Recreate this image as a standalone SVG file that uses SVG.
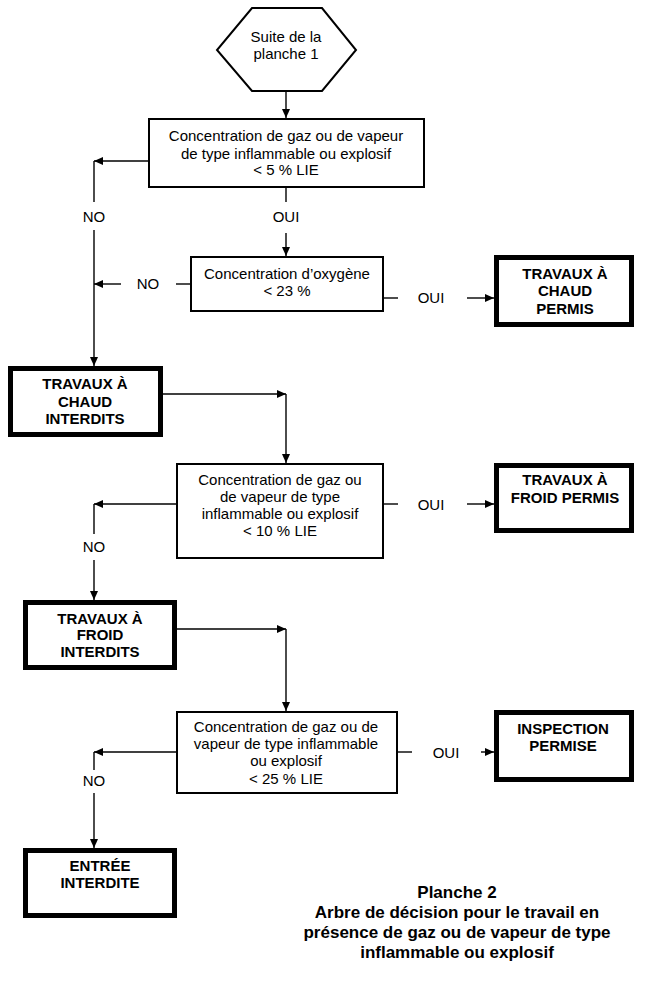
<svg xmlns="http://www.w3.org/2000/svg" width="650" height="981" viewBox="0 0 650 981">
<style>
.bg{fill:#fff}
.thin{fill:#fff;stroke:#000;stroke-width:2}
.thick{fill:#fff;stroke:#000;stroke-width:5}
.t{font-family:"Liberation Sans",Arial,sans-serif;font-size:15px;fill:#000;text-anchor:middle}
.b{font-family:"Liberation Sans",Arial,sans-serif;font-size:15px;font-weight:bold;fill:#000;text-anchor:middle}
.title{font-family:"Liberation Sans",Arial,sans-serif;font-size:17px;font-weight:bold;fill:#000;text-anchor:middle}
.c{fill:none;stroke:#000;stroke-width:1.4}
</style>
<defs>
<marker id="ah" markerUnits="userSpaceOnUse" markerWidth="9" markerHeight="8" refX="9" refY="4" orient="auto">
<path d="M0,0 L9,4 L0,8 z" fill="#000"/>
</marker>
</defs>
<rect class="bg" x="0" y="0" width="650" height="981"/>

<g id="connectors">
<line class="c" x1="286" y1="91" x2="286" y2="118" marker-end="url(#ah)"/>
<line class="c" x1="148" y1="161" x2="94" y2="161" marker-end="url(#ah)"/>
<line class="c" x1="94" y1="161" x2="94" y2="202"/>
<line class="c" x1="94" y1="230" x2="94" y2="366" marker-end="url(#ah)"/>
<line class="c" x1="286" y1="188" x2="286" y2="202"/>
<line class="c" x1="286" y1="233" x2="286" y2="256" marker-end="url(#ah)"/>
<line class="c" x1="190" y1="284" x2="176" y2="284"/>
<line class="c" x1="121" y1="284" x2="94" y2="284" marker-end="url(#ah)"/>
<line class="c" x1="384" y1="298" x2="398" y2="298"/>
<line class="c" x1="467" y1="298" x2="494" y2="298" marker-end="url(#ah)"/>
<line class="c" x1="163" y1="394" x2="286" y2="394" marker-end="url(#ah)"/>
<line class="c" x1="286" y1="394" x2="286" y2="463" marker-end="url(#ah)"/>
<line class="c" x1="176" y1="504" x2="94" y2="504" marker-end="url(#ah)"/>
<line class="c" x1="94" y1="504" x2="94" y2="534"/>
<line class="c" x1="94" y1="560" x2="94" y2="600" marker-end="url(#ah)"/>
<line class="c" x1="384" y1="504" x2="398" y2="504"/>
<line class="c" x1="467" y1="504" x2="494" y2="504" marker-end="url(#ah)"/>
<line class="c" x1="177" y1="629" x2="286" y2="629" marker-end="url(#ah)"/>
<line class="c" x1="286" y1="629" x2="286" y2="711" marker-end="url(#ah)"/>
<line class="c" x1="176" y1="752" x2="94" y2="752" marker-end="url(#ah)"/>
<line class="c" x1="94" y1="752" x2="94" y2="770"/>
<line class="c" x1="94" y1="793" x2="94" y2="848" marker-end="url(#ah)"/>
<line class="c" x1="398" y1="752" x2="412" y2="752"/>
<line class="c" x1="481" y1="752" x2="494" y2="752" marker-end="url(#ah)"/>
<text class="t" x="94" y="222">NO</text>
<text class="t" x="286" y="222">OUI</text>
<text class="t" x="148" y="289">NO</text>
<text class="t" x="431" y="303">OUI</text>
<text class="t" x="94" y="552">NO</text>
<text class="t" x="431" y="510">OUI</text>
<text class="t" x="94" y="786">NO</text>
<text class="t" x="446" y="758">OUI</text>
</g>

<g id="start">
<polygon class="thin" points="252,8 322,8 356,50 322,91 252,91 217,50"/>
<text class="t" x="286" y="42">Suite de la</text>
<text class="t" x="286" y="59">planche 1</text>
</g>

<g id="q1">
<rect class="thin" x="149" y="119" width="275" height="68"/>
<text class="t" x="286" y="141">Concentration de gaz ou de vapeur</text>
<text class="t" x="286" y="158.5">de type inflammable ou explosif</text>
<text class="t" x="286" y="175">&lt; 5 % LIE</text>
</g>

<g id="q2">
<rect class="thin" x="191" y="257" width="192" height="54"/>
<text class="t" x="287" y="278.5">Concentration d’oxygène</text>
<text class="t" x="287" y="296">&lt; 23 %</text>
</g>

<g id="chaud-permis">
<rect class="thick" x="496.5" y="257.5" width="135" height="67"/>
<text class="b" x="565" y="278.5">TRAVAUX À</text>
<text class="b" x="565" y="296">CHAUD</text>
<text class="b" x="565" y="313.5">PERMIS</text>
</g>

<g id="chaud-interdits">
<rect class="thick" x="10.5" y="368.5" width="150" height="66"/>
<text class="b" x="85" y="389">TRAVAUX À</text>
<text class="b" x="85" y="407">CHAUD</text>
<text class="b" x="85" y="423.5">INTERDITS</text>
</g>

<g id="q3">
<rect class="thin" x="177" y="464" width="206" height="94"/>
<text class="t" x="280" y="484.5">Concentration de gaz ou</text>
<text class="t" x="280" y="502">de vapeur de type</text>
<text class="t" x="280" y="519">inflammable ou explosif</text>
<text class="t" x="280" y="536">&lt; 10 % LIE</text>
</g>

<g id="froid-permis">
<rect class="thick" x="496.5" y="465.5" width="135" height="65"/>
<text class="b" x="565" y="485">TRAVAUX À</text>
<text class="b" x="565" y="502.5">FROID PERMIS</text>
</g>

<g id="froid-interdits">
<rect class="thick" x="25.5" y="602.5" width="149" height="65"/>
<text class="b" x="100" y="623.5">TRAVAUX À</text>
<text class="b" x="100" y="640">FROID</text>
<text class="b" x="100" y="657">INTERDITS</text>
</g>

<g id="q4">
<rect class="thin" x="177" y="712" width="220" height="81"/>
<text class="t" x="286" y="732">Concentration de gaz ou de</text>
<text class="t" x="286" y="749">vapeur de type inflammable</text>
<text class="t" x="286" y="766">ou explosif</text>
<text class="t" x="286" y="783.5">&lt; 25 % LIE</text>
</g>

<g id="inspection">
<rect class="thick" x="496.5" y="712.5" width="135" height="67"/>
<text class="b" x="563" y="733.5">INSPECTION</text>
<text class="b" x="563" y="751">PERMISE</text>
</g>

<g id="entree">
<rect class="thick" x="25.5" y="850.5" width="149" height="65"/>
<text class="b" x="100" y="871">ENTRÉE</text>
<text class="b" x="100" y="888">INTERDITE</text>
</g>

<g id="caption">
<text class="title" x="457" y="898">Planche 2</text>
<text class="title" x="457" y="918">Arbre de décision pour le travail en</text>
<text class="title" x="457" y="938">présence de gaz ou de vapeur de type</text>
<text class="title" x="457" y="958">inflammable ou explosif</text>
</g>
</svg>
